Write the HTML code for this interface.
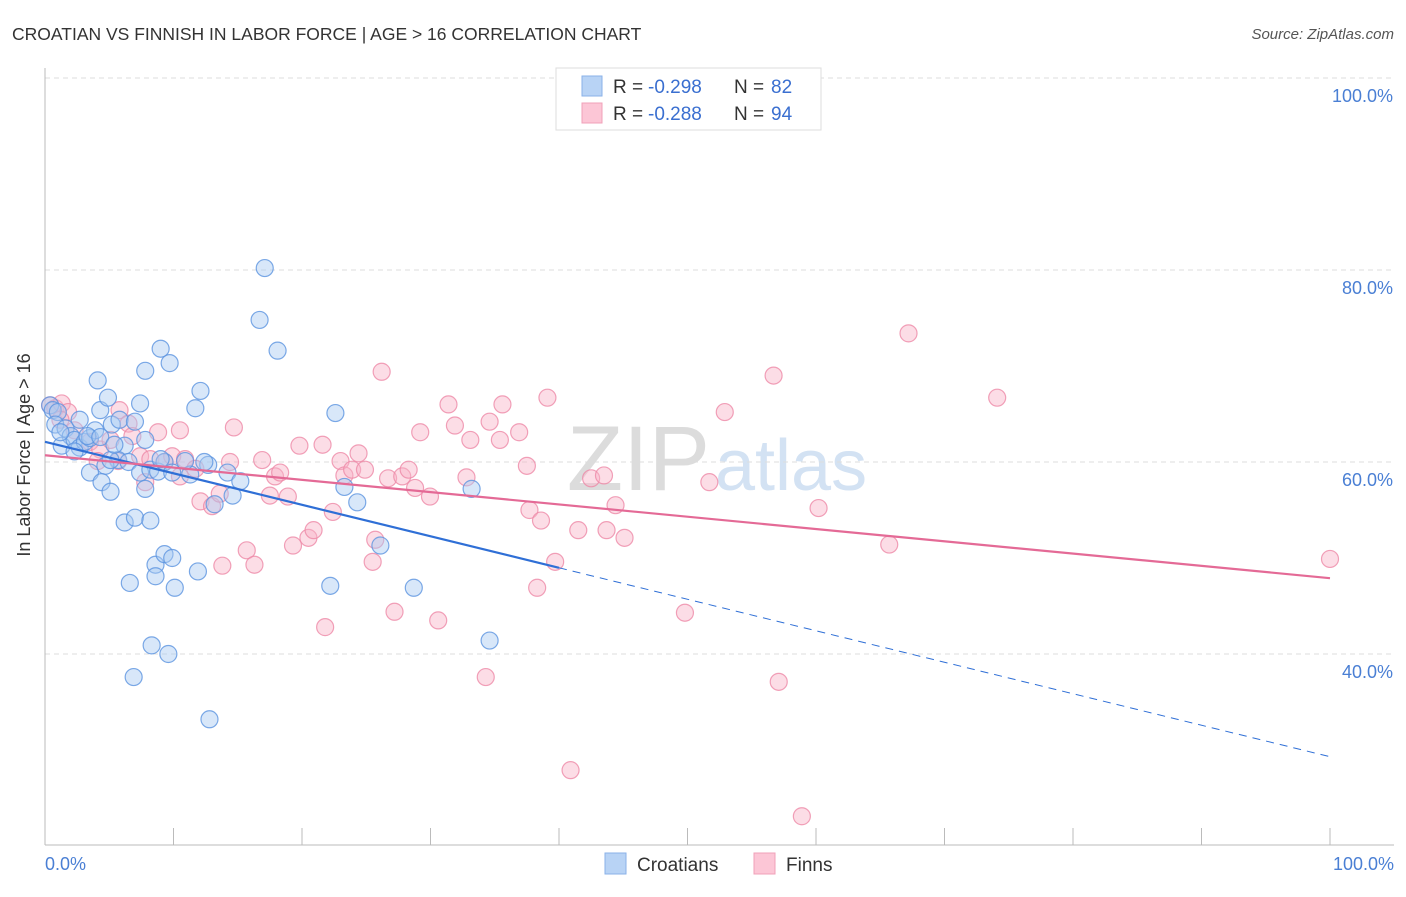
<!DOCTYPE html>
<html><head><meta charset="utf-8"><style>
body{margin:0;background:#fff;font-family:"Liberation Sans",sans-serif;}
svg text{font-family:"Liberation Sans",sans-serif;}
</style></head><body>
<svg id="chart" width="1406" height="892" xmlns="http://www.w3.org/2000/svg">
<text x="12" y="40" font-size="17.5" fill="#333">CROATIAN VS FINNISH IN LABOR FORCE | AGE &gt; 16 CORRELATION CHART</text>
<text x="1394" y="39" font-size="15" fill="#555" font-style="italic" text-anchor="end">Source: ZipAtlas.com</text>
<text x="710" y="490" font-size="92" fill="#dcdcdc" text-anchor="end" font-family="Liberation Serif">ZIP</text>
<text x="715" y="490" font-size="72" fill="#d3e2f3">atlas</text>
<g id="grid"></g><g id="axes"></g><g id="pts"></g><g id="trend"></g>
<text x="30" y="455" font-size="18" fill="#333" transform="rotate(-90 30 455)" text-anchor="middle">In Labor Force | Age &gt; 16</text>
<text x="45" y="870" font-size="18" fill="#4a7fd4">0.0%</text>
<text x="1394" y="870" font-size="18" fill="#4a7fd4" text-anchor="end">100.0%</text>
<g>
<rect x="556" y="68" width="265" height="62" fill="#fff" stroke="#ddd"/>
<rect x="582" y="76" width="20" height="20" fill="#b8d3f5" stroke="#8ab2e8"/>
<rect x="582" y="103" width="20" height="20" fill="#fcc6d6" stroke="#f0a0b8"/>
<text x="613" y="93" font-size="19" fill="#333">R =</text>
<text x="648" y="93" font-size="19" fill="#3a6fd0">-0.298</text>
<text x="734" y="93" font-size="19" fill="#333">N =</text>
<text x="771" y="93" font-size="19" fill="#3a6fd0">82</text>
<text x="613" y="120" font-size="19" fill="#333">R =</text>
<text x="648" y="120" font-size="19" fill="#3a6fd0">-0.288</text>
<text x="734" y="120" font-size="19" fill="#333">N =</text>
<text x="771" y="120" font-size="19" fill="#3a6fd0">94</text>
</g>
<g>
<rect x="605" y="853" width="21" height="21" fill="#b8d3f5" stroke="#8ab2e8"/>
<text x="637" y="871" font-size="19" fill="#333">Croatians</text>
<rect x="754" y="853" width="21" height="21" fill="#fcc6d6" stroke="#f0a0b8"/>
<text x="786" y="871" font-size="19" fill="#333">Finns</text>
</g>
</svg>
<script>
const yTicks=[40,60,80,100];
const blueX=[0.4,0.6,1,0.8,1.6,2,1.3,2.3,2.7,3.1,3.5,3.9,4.3,4.1,4.9,5.2,5.8,6.2,5.7,4.7,3.5,4.4,5.1,6.5,7,7.4,7.8,9,9.7,7.4,7.8,8.2,8.8,9.3,6.2,7,8.2,6.6,8.6,8.6,9.3,9.9,10.1,11.9,8.3,9.6,6.9,12.8,11.7,12.1,17.1,16.7,18.1,11.3,12.7,14.2,15.2,14.6,13.2,22.6,23.3,24.3,26.1,22.2,28.7,33.2,34.6,5.1,3.3,2.3,1.2,2.7,4.3,5.4,7.8,10.9,9,12.4,9.9];
const blueY=[65.9,65.4,65.2,63.9,63.5,62.7,61.7,62.3,61.5,62.1,62.5,63.3,65.4,68.5,66.7,63.9,64.4,61.7,60.2,59.6,58.9,57.9,56.9,60,64.2,66.1,69.5,71.8,70.3,58.9,57.2,59.2,59,60,53.7,54.2,53.9,47.4,49.3,48.1,50.4,50,46.9,48.6,40.9,40,37.6,33.2,65.6,67.4,80.2,74.8,71.6,58.7,59.7,58.9,58,56.5,55.6,65.1,57.4,55.8,51.3,47.1,46.9,57.2,41.4,60.2,62.7,61.1,63.1,64.4,62.6,61.8,62.3,60.1,60.3,60,58.9];
const pinkX=[0.4,0.8,1.3,1.8,1.2,2.3,3.5,4.3,5.1,5.8,6.5,6.8,7.4,8.2,8.8,9.3,9.9,10.5,10.9,11.7,12.1,13,13.6,14.4,14.7,15.7,16.3,13.8,16.9,17.5,17.9,18.3,18.9,19.3,19.8,20.5,20.9,21.6,21.8,22.4,23,23.3,23.9,24.4,24.9,25.7,25.5,26.2,26.7,27.2,27.8,28.3,28.8,29.2,29.96,30.6,31.4,31.9,33.1,32.8,34.3,34.6,35.4,35.6,36.9,37.5,37.7,38.6,39.1,39.7,38.3,40.9,41.5,42.5,43.5,43.7,44.4,45.1,49.8,51.7,52.9,56.7,57.1,58.9,60.2,65.7,67.2,74.1,100,10.5,5.7,7.8,4.1];
const pinkY=[65.9,65.6,66.1,65.2,64.4,63.3,62.1,61.3,62.3,65.4,64,62.7,60.6,60.3,63.1,60,60.6,58.5,60.3,59.3,55.9,55.4,56.7,60,63.6,50.8,49.3,49.2,60.2,56.5,58.5,58.9,56.4,51.3,61.7,52.1,52.9,61.8,42.8,54.8,60.1,58.6,59.2,60.9,59.2,51.9,49.6,69.4,58.3,44.4,58.5,59.2,57.3,63.1,56.4,43.5,66,63.8,62.3,58.4,37.6,64.2,62.3,66,63.1,59.6,55,53.9,66.7,49.6,46.9,27.9,52.9,58.3,58.6,52.9,55.5,52.1,44.3,57.9,65.2,69,37.1,23.1,55.2,51.4,73.4,66.7,49.9,63.3,60.1,57.9,60.1];
const blueTrend=[62.1,29.3], pinkTrend=[60.7,47.9];
const X=v=>45+v*12.85, Y=v=>1038-v*9.6;
const NS='http://www.w3.org/2000/svg';
function mk(tag,attrs,parent){const e=document.createElementNS(NS,tag);for(const k in attrs)e.setAttribute(k,attrs[k]);document.getElementById(parent).appendChild(e);return e;}
yTicks.forEach(t=>{
 const l=mk('line',{x1:45,x2:1394,y1:Y(t),y2:Y(t),stroke:'#ddd','stroke-dasharray':'5,4'},'grid');
 
 
 const tx=mk('text',{x:1393,y:Y(t)+24,'font-size':18,fill:'#4a7fd4','text-anchor':'end'},'grid');
 tx.textContent=t.toFixed(1)+'%';
 
 
});
let ax=mk('line',{x1:45,x2:45,y1:68,y2:845,stroke:'#bbb'},'axes');


ax=mk('line',{x1:45,x2:1394,y1:845,y2:845,stroke:'#bbb'},'axes');


for(let k=1;k<=10;k++){const t=mk('line',{x1:X(k*10),x2:X(k*10),y1:828,y2:845,stroke:'#bbb'},'axes');
 
 }
function pts(xs,ys,fill,stroke,name){xs.forEach((x,i)=>{const c=mk('circle',{cx:X(x),cy:Y(ys[i]),r:8.5,fill:fill,'fill-opacity':0.45,stroke:stroke,'stroke-opacity':0.8,'stroke-width':1.2},'pts');
 
 });}
pts(pinkX,pinkY,'#f9b3c8','#ee8aa8','finns-point');
pts(blueX,blueY,'#a9c9f2','#5b93e0','croatians-point');
const yAt=(tr,x)=>tr[0]+(tr[1]-tr[0])*x/100;
let l=mk('line',{x1:X(0),y1:Y(blueTrend[0]),x2:X(40),y2:Y(yAt(blueTrend,40)),stroke:'#2f6fd6','stroke-width':2.2},'trend');


l=mk('line',{x1:X(40),y1:Y(yAt(blueTrend,40)),x2:X(100),y2:Y(blueTrend[1]),stroke:'#2f6fd6','stroke-width':1,'stroke-dasharray':'8,6'},'trend');


l=mk('line',{x1:X(0),y1:Y(pinkTrend[0]),x2:X(100),y2:Y(pinkTrend[1]),stroke:'#e46a96','stroke-width':2.2},'trend');


</script>
</body></html>
